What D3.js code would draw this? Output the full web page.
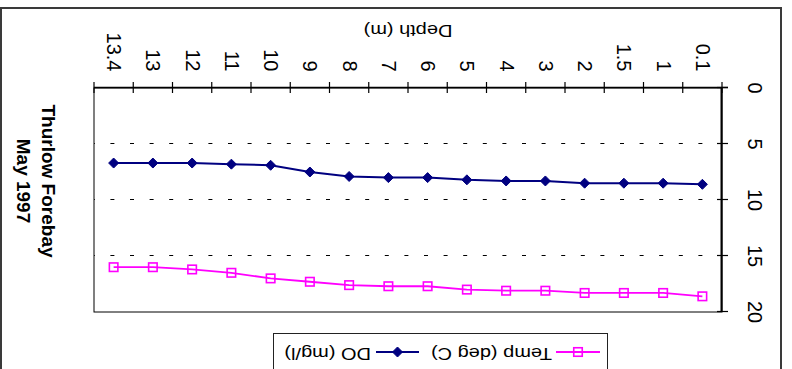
<!DOCTYPE html>
<html>
<head>
<meta charset="utf-8">
<script src="https://cdn.jsdelivr.net/npm/d3@7"></script>
<style>
  html, body { margin: 0; padding: 0; background: #fff; }
  svg { display: block; font-family: "Liberation Sans", Arial, sans-serif; }
</style>
</head>
<body>
<script>
// Sampling depths (m), dissolved oxygen (mg/l) and water temperature (deg C)
const depths = ["0.1", "1", "1.5", "2", "3", "4", "5", "6", "7", "8", "9", "10", "11", "12", "13", "13.4"];
const doValues = [8.6, 8.5, 8.5, 8.5, 8.3, 8.3, 8.2, 8.0, 8.0, 7.9, 7.5, 6.9, 6.8, 6.7, 6.7, 6.7];
const tempValues = [18.6, 18.3, 18.3, 18.3, 18.1, 18.1, 18.0, 17.7, 17.7, 17.6, 17.3, 17.0, 16.5, 16.2, 16.0, 16.0];
const valueTicks = [0, 5, 10, 15, 20];
const gridValues = [5, 10, 15];
const titleLines = ["Thurlow Forebay", "May 1997"];
const axisTitle = "Depth (m)";
const seriesNames = ["Temp (deg C)", "DO (mg/l)"];

const W = 792, H = 369;
const NAVY = "#000080", PINK = "#FF00FF";

const svg = d3.select("body").append("svg")
  .attr("width", W).attr("height", H);
svg.append("rect").attr("width", W).attr("height", H).attr("fill", "#fff");

// The whole chart is drawn upright, then turned half a turn.
const g = svg.append("g").attr("transform", `rotate(180 ${W / 2} ${H / 2})`);

// Chart frame
g.append("rect")
  .attr("x", 11).attr("y", -20).attr("width", 780).attr("height", 381)
  .attr("fill", "#fff").attr("stroke", "#3a3a3a").attr("stroke-width", 2);

const plot = { left: 70, right: 698, top: 57, bottom: 281 };
const x = d3.scaleBand().domain(depths).range([plot.left, plot.right]);
const y = d3.scaleLinear().domain([0, 20]).range([plot.bottom, plot.top]);
const bw = x.bandwidth();
const cx = d => x(d) + bw / 2;

// Plot area border
g.append("rect")
  .attr("x", plot.left).attr("y", plot.top)
  .attr("width", plot.right - plot.left).attr("height", plot.bottom - plot.top)
  .attr("fill", "none").attr("stroke", "#000").attr("stroke-width", 1);

// Dashed gridlines
g.append("g").selectAll("line").data(gridValues).join("line")
  .attr("x1", plot.left).attr("x2", plot.right)
  .attr("y1", d => Math.round(y(d)) + 0.5).attr("y2", d => Math.round(y(d)) + 0.5)
  .attr("stroke", "#000").attr("stroke-width", 1)
  .attr("stroke-dasharray", "4,15.6");

// Value axis (left)
const yAxis = g.append("g")
  .attr("transform", `translate(${plot.left},0)`)
  .call(d3.axisLeft(y).tickValues(valueTicks).tickSize(0).tickFormat(""));
yAxis.select(".domain").attr("stroke", "#000").attr("stroke-width", 2);
yAxis.selectAll(".tick line").attr("x1", -6).attr("x2", 5)
  .attr("stroke", "#000").attr("stroke-width", 1.2);
g.append("g").selectAll("text").data(valueTicks).join("text")
  .attr("transform", d => `translate(44,${y(d)}) rotate(-90)`)
  .attr("text-anchor", "middle")
  .attr("font-size", 20).attr("fill", "#000")
  .text(d => d);

// Category axis (bottom), ticks at band edges
const edges = depths.map(d => x(d)).concat([x.range()[1]]);
const xAxis = g.append("g");
xAxis.append("line")
  .attr("x1", plot.left - 6).attr("x2", plot.right)
  .attr("y1", plot.bottom + 0.5).attr("y2", plot.bottom + 0.5)
  .attr("stroke", "#000").attr("stroke-width", 1.5);
xAxis.selectAll("line.tk").data(edges).join("line").attr("class", "tk")
  .attr("x1", d => d).attr("x2", d => d)
  .attr("y1", plot.bottom - 5).attr("y2", plot.bottom + 6)
  .attr("stroke", "#000").attr("stroke-width", 1.2);
xAxis.selectAll("text").data(depths).join("text")
  .attr("transform", d => `translate(${cx(d) + 6.5},297.5) rotate(-90)`)
  .attr("text-anchor", "end")
  .attr("font-size", 20).attr("fill", "#000")
  .text(d => d);

// Axis title
g.append("text")
  .attr("transform", `translate(${(plot.left + plot.right) / 2},344) scale(1,0.83)`)
  .attr("text-anchor", "middle")
  .attr("font-size", 20).attr("fill", "#000")
  .text(axisTitle);

// Chart title
g.append("g").selectAll("text").data(titleLines).join("text")
  .attr("transform", (d, i) => `translate(${750 + i * 25},188) rotate(-90)`)
  .attr("text-anchor", "middle")
  .attr("font-size", 19).attr("font-weight", "bold").attr("fill", "#000")
  .text(d => d);

// Markers
const diamond = (sel, px, py, r) => sel.append("path")
  .attr("d", `M${px},${py - r}L${px + r},${py}L${px},${py + r}L${px - r},${py}Z`)
  .attr("fill", NAVY).attr("stroke", NAVY).attr("stroke-width", 1);
const square = (sel, px, py, s) => sel.append("rect")
  .attr("x", px - s / 2).attr("y", py - s / 2).attr("width", s).attr("height", s)
  .attr("fill", "none").attr("stroke", PINK).attr("stroke-width", 1.6);

const line = d3.line().x(d => cx(d[0])).y(d => y(d[1]));
const tempPts = depths.map((d, i) => [d, tempValues[i]]);
const doPts = depths.map((d, i) => [d, doValues[i]]);

const series = g.append("g");
series.append("path").datum(tempPts).attr("d", line)
  .attr("fill", "none").attr("stroke", PINK).attr("stroke-width", 1.8);
tempPts.forEach(p => square(series, cx(p[0]), y(p[1]), 8.5));
series.append("path").datum(doPts).attr("d", line)
  .attr("fill", "none").attr("stroke", NAVY).attr("stroke-width", 2);
doPts.forEach(p => diamond(series, cx(p[0]), y(p[1]), 5));

// Legend
const lg = g.append("g");
lg.append("rect")
  .attr("x", 184.5).attr("y", -20).attr("width", 334).attr("height", 55.5)
  .attr("fill", "#fff").attr("stroke", "#222").attr("stroke-width", 1);
lg.append("line").attr("x1", 192).attr("x2", 236).attr("y1", 17).attr("y2", 17)
  .attr("stroke", PINK).attr("stroke-width", 1.8);
square(lg, 214, 17, 8.5);
lg.append("text")
  .attr("transform", "translate(240,21) scale(1,0.83)")
  .attr("font-size", 20).attr("fill", "#000").text(seriesNames[0]);
lg.append("line").attr("x1", 373).attr("x2", 416).attr("y1", 17).attr("y2", 17)
  .attr("stroke", NAVY).attr("stroke-width", 2);
diamond(lg, 394.5, 17, 5);
lg.append("text")
  .attr("transform", "translate(421,21) scale(1,0.83)")
  .attr("font-size", 20).attr("fill", "#000").text(seriesNames[1]);
</script>
</body>
</html>
